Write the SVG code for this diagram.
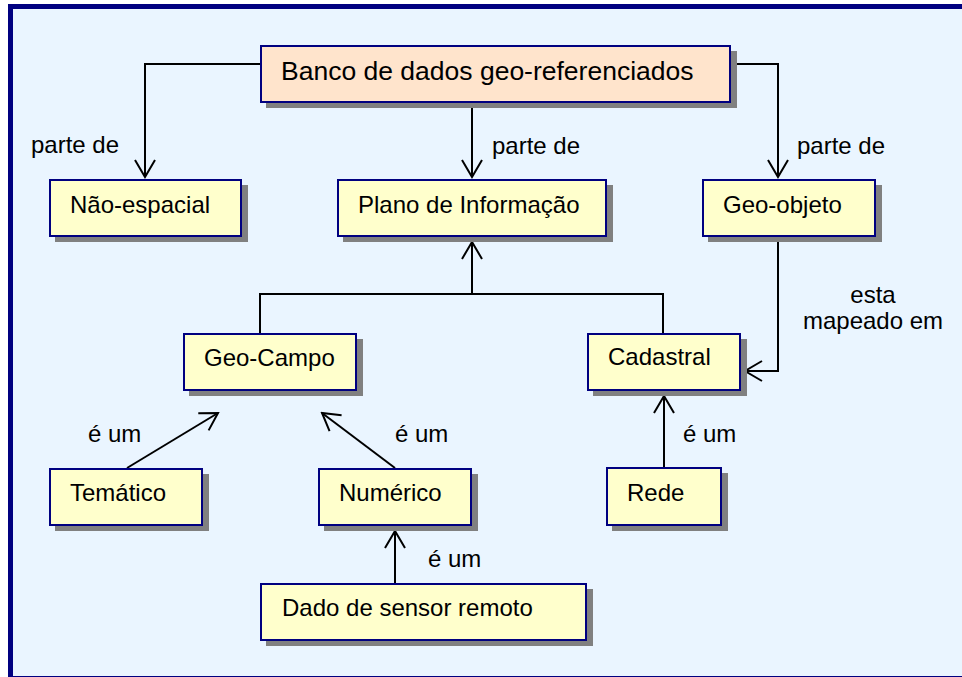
<svg xmlns="http://www.w3.org/2000/svg" width="962" height="677" viewBox="0 0 962 677">
<defs>
<style>
.frame{fill:#EAF5FF;stroke:#000080;stroke-width:5}
.shadow{fill:#808080}
.box{fill:#FFFFCC;stroke:#000080;stroke-width:2}
.root{fill:#FFE4CC;stroke:#000080;stroke-width:2}
.t{font-family:"Liberation Sans",Arial,sans-serif;font-size:24px;fill:#000}
.big{font-size:26.5px}
.c{fill:none;stroke:#000;stroke-width:2}
</style>
<marker id="ah" viewBox="-20 -12 22 24" refX="0" refY="0" markerWidth="22" markerHeight="24" markerUnits="userSpaceOnUse" orient="auto">
<path d="M-17,-10 L0,0 L-17,10" fill="none" stroke="#000" stroke-width="2"/>
</marker>
</defs>
<rect x="0" y="0" width="962" height="677" fill="#FFFFFF"/>
<rect class="frame" x="10.5" y="6.5" width="970" height="672"/>
<g id="connectors">
<polyline class="c" points="260,64 145,64 145,177" marker-end="url(#ah)"/>
<line class="c" x1="472" y1="108" x2="472" y2="177" marker-end="url(#ah)"/>
<polyline class="c" points="737,64 778,64 778,177" marker-end="url(#ah)"/>
<polyline class="c" points="778,242 778,371 745,371" marker-end="url(#ah)"/>
<polyline class="c" points="260,333 260,294 663,294 663,333"/>
<line class="c" x1="472" y1="294" x2="472" y2="242" marker-end="url(#ah)"/>
<line class="c" x1="127" y1="468" x2="218" y2="413" marker-end="url(#ah)"/>
<line class="c" x1="395" y1="468" x2="322" y2="413" marker-end="url(#ah)"/>
<line class="c" x1="664" y1="467" x2="664" y2="396" marker-end="url(#ah)"/>
<line class="c" x1="395" y1="583" x2="395" y2="531" marker-end="url(#ah)"/>
<text class="t" x="31" y="153">parte de</text>
<text class="t" x="492" y="154">parte de</text>
<text class="t" x="797" y="154">parte de</text>
<text class="t" x="873" y="303" text-anchor="middle">esta</text>
<text class="t" x="873" y="329" text-anchor="middle">mapeado em</text>
<text class="t" x="88" y="442">é um</text>
<text class="t" x="395" y="442">é um</text>
<text class="t" x="683" y="442">é um</text>
<text class="t" x="428" y="567">é um</text>
</g>
<g id="banco">
<rect class="shadow" x="266" y="51" width="471" height="57"/>
<rect class="root" x="261" y="46" width="469" height="56"/>
<text class="t big" x="281" y="80">Banco de dados geo-referenciados</text>
</g>
<g id="nao-espacial">
<rect class="shadow" x="55" y="185" width="193" height="57"/>
<rect class="box" x="50" y="180" width="191" height="56"/>
<text class="t" x="70" y="213">Não-espacial</text>
</g>
<g id="plano">
<rect class="shadow" x="343" y="185" width="270" height="57"/>
<rect class="box" x="338" y="180" width="268" height="56"/>
<text class="t" x="358" y="213">Plano de Informação</text>
</g>
<g id="geo-objeto">
<rect class="shadow" x="708" y="185" width="174" height="57"/>
<rect class="box" x="703" y="180" width="172" height="56"/>
<text class="t" x="723" y="213">Geo-objeto</text>
</g>
<g id="geo-campo">
<rect class="shadow" x="189" y="339" width="174" height="57"/>
<rect class="box" x="184" y="334" width="172" height="56"/>
<text class="t" x="204" y="366">Geo-Campo</text>
</g>
<g id="cadastral">
<rect class="shadow" x="593" y="339" width="154" height="57"/>
<rect class="box" x="588" y="334" width="152" height="56"/>
<text class="t" x="608" y="365">Cadastral</text>
</g>
<g id="tematico">
<rect class="shadow" x="55" y="474" width="154" height="57"/>
<rect class="box" x="50" y="469" width="152" height="56"/>
<text class="t" x="70" y="501">Temático</text>
</g>
<g id="numerico">
<rect class="shadow" x="324" y="474" width="154" height="57"/>
<rect class="box" x="319" y="469" width="152" height="56"/>
<text class="t" x="339" y="501">Numérico</text>
</g>
<g id="rede">
<rect class="shadow" x="612" y="473" width="116" height="58"/>
<rect class="box" x="607" y="468" width="114" height="57"/>
<text class="t" x="627" y="501">Rede</text>
</g>
<g id="dado">
<rect class="shadow" x="266" y="589" width="327" height="57"/>
<rect class="box" x="261" y="584" width="325" height="56"/>
<text class="t" x="282" y="616">Dado de sensor remoto</text>
</g>
</svg>
